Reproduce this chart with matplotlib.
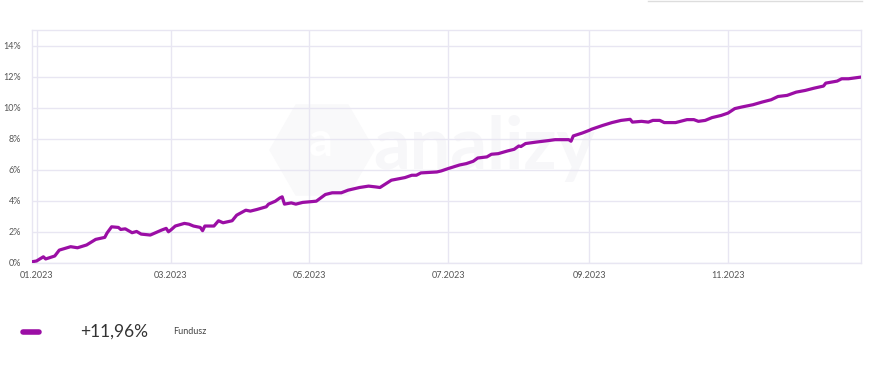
import matplotlib
matplotlib.use("Agg")
import matplotlib.pyplot as plt
import matplotlib.dates as mdates
import numpy as np
import pandas as pd
from matplotlib.lines import Line2D
from matplotlib.patches import RegularPolygon
from matplotlib.transforms import IdentityTransform

plt.rcParams['font.family'] = ['Lato', 'DejaVu Sans']

# fund return since start of 2023, %
dates = [
    "2022-12-30", "2023-01-01", "2023-01-04", "2023-01-05", "2023-01-09", "2023-01-11",
    "2023-01-16", "2023-01-19", "2023-01-23", "2023-01-27", "2023-01-31", "2023-02-01",
    "2023-02-03", "2023-02-06", "2023-02-07", "2023-02-09", "2023-02-12", "2023-02-14",
    "2023-02-16", "2023-02-20", "2023-02-25", "2023-02-27", "2023-02-28", "2023-03-01",
    "2023-03-03", "2023-03-07", "2023-03-09", "2023-03-11", "2023-03-14", "2023-03-15",
    "2023-03-16", "2023-03-20", "2023-03-22", "2023-03-24", "2023-03-28", "2023-03-30",
    "2023-04-03", "2023-04-05", "2023-04-08", "2023-04-12", "2023-04-13", "2023-04-16",
    "2023-04-18", "2023-04-19", "2023-04-20", "2023-04-23", "2023-04-25", "2023-04-28",
    "2023-05-04", "2023-05-08", "2023-05-11", "2023-05-15", "2023-05-18", "2023-05-23",
    "2023-05-27", "2023-05-30", "2023-06-01", "2023-06-06", "2023-06-12", "2023-06-15",
    "2023-06-17", "2023-06-19", "2023-06-26", "2023-06-28", "2023-07-01", "2023-07-06",
    "2023-07-09", "2023-07-12", "2023-07-14", "2023-07-18", "2023-07-20", "2023-07-23",
    "2023-07-27", "2023-07-30", "2023-08-01", "2023-08-02", "2023-08-04", "2023-08-09",
    "2023-08-14", "2023-08-17", "2023-08-23", "2023-08-24", "2023-08-25", "2023-08-29",
    "2023-09-01", "2023-09-02", "2023-09-07", "2023-09-11", "2023-09-15", "2023-09-19",
    "2023-09-20", "2023-09-24", "2023-09-27", "2023-09-29", "2023-10-02", "2023-10-04",
    "2023-10-09", "2023-10-14", "2023-10-17", "2023-10-19", "2023-10-22", "2023-10-25",
    "2023-10-29", "2023-11-01", "2023-11-04", "2023-11-07", "2023-11-12", "2023-11-16",
    "2023-11-20", "2023-11-23", "2023-11-27", "2023-12-01", "2023-12-05", "2023-12-09",
    "2023-12-13", "2023-12-14", "2023-12-19", "2023-12-21", "2023-12-24", "2023-12-29",
]
values = [
    0.08, 0.13, 0.40, 0.26, 0.45, 0.83,
    1.05, 0.98, 1.16, 1.52, 1.65, 1.93,
    2.33, 2.29, 2.16, 2.20, 1.95, 2.03,
    1.86, 1.80, 2.12, 2.23, 2.01, 2.12,
    2.38, 2.55, 2.50, 2.38, 2.29, 2.08,
    2.38, 2.38, 2.72, 2.59, 2.72, 3.08,
    3.40, 3.34, 3.45, 3.62, 3.79, 3.98,
    4.19, 4.26, 3.79, 3.87, 3.79, 3.90,
    3.98, 4.41, 4.52, 4.52, 4.69, 4.86,
    4.95, 4.90, 4.86, 5.33, 5.50, 5.65,
    5.65, 5.80, 5.86, 5.93, 6.08, 6.31,
    6.40, 6.55, 6.76, 6.83, 7.00, 7.04,
    7.21, 7.32, 7.53, 7.50, 7.69, 7.79,
    7.88, 7.94, 7.94, 7.84, 8.18, 8.37,
    8.54, 8.61, 8.86, 9.04, 9.18, 9.25,
    9.07, 9.12, 9.07, 9.18, 9.18, 9.04,
    9.04, 9.23, 9.23, 9.12, 9.18, 9.36,
    9.50, 9.65, 9.94, 10.04, 10.19, 10.36,
    10.51, 10.72, 10.79, 11.00, 11.11, 11.26,
    11.39, 11.58, 11.71, 11.86, 11.86, 11.96,
]
y_ticks = [0, 2, 4, 6, 8, 10, 12, 14]
x_ticks = ["2023-01-01", "2023-03-01", "2023-05-01", "2023-07-01", "2023-09-01", "2023-11-01"]
legend_value = "+11,96%"
legend_name = "Fundusz"

purple = "#9b0ea5"
grid_col = "#e8e6f2"

fig = plt.figure(figsize=(8.85, 3.78), dpi=100)
ax = fig.add_axes([32 / 885, 1 - 263 / 378, 829 / 885, 233 / 378])

# faint watermark (logo + name), drawn under the grid
ax.add_patch(RegularPolygon((322, 378 - 150), 6, radius=52, orientation=np.pi / 6,
                            transform=IdentityTransform(), color="#f9f9fa", zorder=-2))
ax.text(0.349, 0.52, "a", transform=ax.transAxes, fontsize=34, color="#ffffff",
        ha="center", va="center", fontweight="bold", zorder=-1)
ax.text(0.545, 0.49, "analizy", transform=ax.transAxes, fontsize=52, color="#f7f7f9",
        ha="center", va="center", fontweight="bold", zorder=-1)

x = pd.to_datetime(dates)
ax.plot(x, values, color=purple, lw=2.3, solid_joinstyle="round", zorder=3)

ax.set_ylim(0, 15)
ax.set_xlim(pd.Timestamp("2022-12-30"), pd.Timestamp("2023-12-29 12:00"))
ax.set_yticks(y_ticks)
ax.set_yticklabels([f"{v}%" for v in y_ticks])
ax.set_xticks(pd.to_datetime(x_ticks))
ax.xaxis.set_major_formatter(mdates.DateFormatter("%m.%Y"))
ax.grid(True, color=grid_col, lw=1)
ax.set_axisbelow(True)
ax.tick_params(length=0, labelsize=6.5, colors="#555555", pad=6)
ax.tick_params(axis="y", pad=8)
for s in ax.spines.values():
    s.set_color(grid_col)
    s.set_linewidth(1)

# legend row below the chart
fig.add_artist(Line2D([23 / 885, 39 / 885], [1 - 332 / 378] * 2, color=purple, lw=4,
                      solid_capstyle="round"))
fig.text(80 / 885, 1 - 332 / 378, legend_value, fontsize=12.5, color="#333333", va="center")
fig.text(173 / 885, 1 - 332 / 378, legend_name, fontsize=6.5, color="#444444", va="center")

# edge of the selector box at the top right
fig.add_artist(Line2D([648 / 885, 862 / 885], [1 - 1.2 / 378] * 2, color="#dddddd", lw=1))

fig.savefig("out.png", dpi=100)
